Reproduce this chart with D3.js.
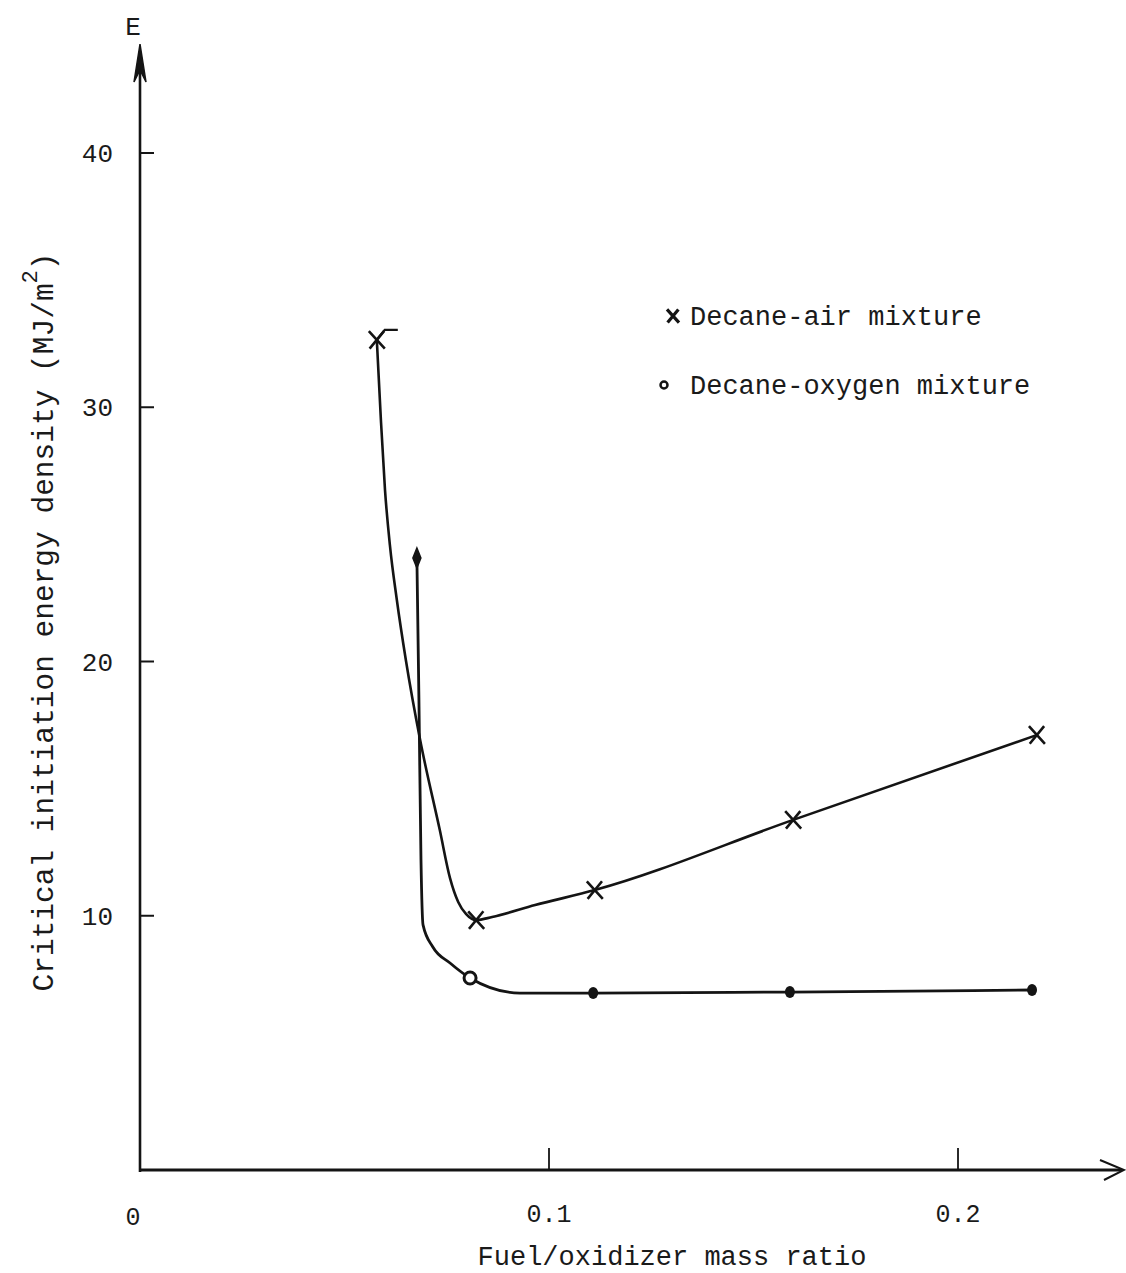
<!DOCTYPE html>
<html>
<head>
<meta charset="utf-8">
<script src="https://cdn.jsdelivr.net/npm/d3@7"></script>
<style>
  html, body { margin: 0; padding: 0; background: #fff; }
  svg text { font-family: "Liberation Mono", "DejaVu Sans Mono", monospace; fill: #1a1a1a; }
</style>
</head>
<body>
<svg id="chart" width="1126" height="1273"></svg>
<script>
// Decane-air mixture: measured points and traced curve (fuel/oxidizer ratio, E in MJ/m^2)
const airPoints = [[0.0579, 32.65], [0.0822, 9.83], [0.1112, 11.01], [0.1597, 13.77], [0.2193, 17.11]];
const airCurve = [
  [0.0579, 32.65], [0.0589, 29.50], [0.0599, 26.75], [0.0611, 24.58], [0.0628, 22.42],
  [0.0650, 20.06], [0.0685, 16.91], [0.0733, 13.37], [0.0758, 11.48], [0.0778, 10.54],
  [0.0797, 10.07], [0.0822, 9.83], [0.0861, 9.95], [0.0966, 10.42], [0.1112, 11.01],
  [0.1597, 13.77], [0.2193, 17.11]
];

// Decane-oxygen mixture
const oxyPoints = [[0.0677, 24.07], [0.0807, 7.55], [0.1108, 6.96], [0.1589, 7.00], [0.2181, 7.08]];
const oxyCurve = [
  [0.0677, 24.07], [0.0682, 18.49], [0.0687, 12.19], [0.0692, 9.64], [0.0716, 8.77],
  [0.0758, 8.14], [0.0807, 7.55], [0.0929, 6.96], [0.1108, 6.96], [0.1589, 7.00], [0.2181, 7.08]
];

const xTicks = [0.1, 0.2];
const xTickLabels = ["0.1", "0.2"];
const yTicks = [10, 20, 30, 40];
const yTickLabels = ["10", "20", "30", "40"];
const legendLabels = ["Decane-air mixture", "Decane-oxygen mixture"];

const svg = d3.select("#chart");
const ink = "#141414";

const x = d3.scaleLinear().domain([0, 0.24]).range([140, 1121.6]);
const y = d3.scaleLinear().domain([0, 40]).range([1170, 153]);

const x0 = x(0), y0 = y(0);

// axes
const axes = svg.append("g").attr("stroke", ink).attr("fill", "none");
axes.append("line").attr("x1", x0).attr("x2", x0).attr("y1", 52).attr("y2", y0 + 2)
  .attr("stroke-width", 2.6);
axes.append("line").attr("x1", x0).attr("x2", 1122).attr("y1", y0).attr("y2", y0)
  .attr("stroke-width", 2.8);
// arrow heads
svg.append("path")
  .attr("d", `M${x0},44 L${x0 - 6},82 L${x0},70 L${x0 + 6},82 Z`)
  .attr("fill", ink).attr("stroke", ink).attr("stroke-width", 1.5);
svg.append("path")
  .attr("d", `M1100,${y0 - 10} L1124,${y0} L1104,${y0 + 10}`)
  .attr("fill", "none").attr("stroke", ink).attr("stroke-width", 2);

// y ticks
const yt = svg.append("g");
yTicks.forEach((t, i) => {
  yt.append("line").attr("x1", x0).attr("x2", x0 + 14).attr("y1", y(t)).attr("y2", y(t))
    .attr("stroke", ink).attr("stroke-width", 2);
  yt.append("text").attr("x", 113).attr("y", y(t)).attr("dy", "0.35em")
    .attr("text-anchor", "end").attr("font-size", 26).text(yTickLabels[i]);
});

// x ticks
const xt = svg.append("g");
xTicks.forEach((t, i) => {
  xt.append("line").attr("x1", x(t)).attr("x2", x(t)).attr("y1", y0).attr("y2", y0 - 22)
    .attr("stroke", ink).attr("stroke-width", 1.8);
  xt.append("text").attr("x", x(t)).attr("y", 1222)
    .attr("text-anchor", "middle").attr("font-size", 25).text(xTickLabels[i]);
});
svg.append("text").attr("x", 133).attr("y", 1225).attr("text-anchor", "middle")
  .attr("font-size", 25).text("0");

// axis titles
svg.append("text").attr("x", 672).attr("y", 1265).attr("text-anchor", "middle")
  .attr("font-size", 27).text("Fuel/oxidizer mass ratio");
svg.append("text").attr("x", 133).attr("y", 35).attr("text-anchor", "middle")
  .attr("font-size", 26).text("E");

const yTitle = svg.append("text")
  .attr("transform", "translate(53,622) rotate(-90)")
  .attr("text-anchor", "middle").attr("font-size", 29.5);
yTitle.append("tspan").text("Critical initiation energy density (MJ/m");
yTitle.append("tspan").attr("dy", -16).attr("font-size", 22).text("2");
yTitle.append("tspan").attr("dy", 16).text(")");

// curves
const line = d3.line().x(d => x(d[0])).y(d => y(d[1])).curve(d3.curveMonotoneX);
svg.append("path").datum(airCurve).attr("d", line)
  .attr("fill", "none").attr("stroke", ink).attr("stroke-width", 2.6);
svg.append("path").datum(oxyCurve).attr("d", line)
  .attr("fill", "none").attr("stroke", ink).attr("stroke-width", 2.8);

// small cap stroke at the top of the air curve
svg.append("path")
  .attr("d", `M${x(airPoints[0][0])},${y(airPoints[0][1])} L${x(airPoints[0][0]) + 8},${y(airPoints[0][1]) - 10} L${x(airPoints[0][0]) + 21},${y(airPoints[0][1]) - 10}`)
  .attr("fill", "none").attr("stroke", ink).attr("stroke-width", 2.4);

// markers
function cross(g, cx, cy, s, w) {
  g.append("path")
    .attr("d", `M${cx - s},${cy - s * 1.1} L${cx + s},${cy + s * 1.1} M${cx + s * 0.9},${cy - s * 1.1} L${cx - s * 0.9},${cy + s * 1.1}`)
    .attr("fill", "none").attr("stroke", ink).attr("stroke-width", w || 2.6);
}
const mk = svg.append("g");
airPoints.forEach(p => cross(mk, x(p[0]), y(p[1]), 8));

oxyPoints.forEach((p, i) => {
  const cx = x(p[0]), cy = y(p[1]);
  if (i === 0) {
    mk.append("path").attr("d", `M${cx},${cy - 10} L${cx + 4},${cy} L${cx},${cy + 10} L${cx - 4},${cy} Z`)
      .attr("fill", ink).attr("stroke", ink).attr("stroke-width", 1.5);
  } else if (i === 1) {
    mk.append("circle").attr("cx", cx).attr("cy", cy).attr("r", 6)
      .attr("fill", "#fff").attr("stroke", ink).attr("stroke-width", 3);
  } else {
    mk.append("ellipse").attr("cx", cx).attr("cy", cy).attr("rx", 5).attr("ry", 6).attr("fill", ink);
  }
});

// legend
const lg = svg.append("g");
cross(lg, 673, 316, 6, 3.2);
lg.append("text").attr("x", 690).attr("y", 325).attr("font-size", 27).text(legendLabels[0]);
lg.append("circle").attr("cx", 664).attr("cy", 385).attr("r", 3.5)
  .attr("fill", "#fff").attr("stroke", ink).attr("stroke-width", 2.5);
lg.append("text").attr("x", 690).attr("y", 394).attr("font-size", 27).text(legendLabels[1]);
</script>
</body>
</html>
